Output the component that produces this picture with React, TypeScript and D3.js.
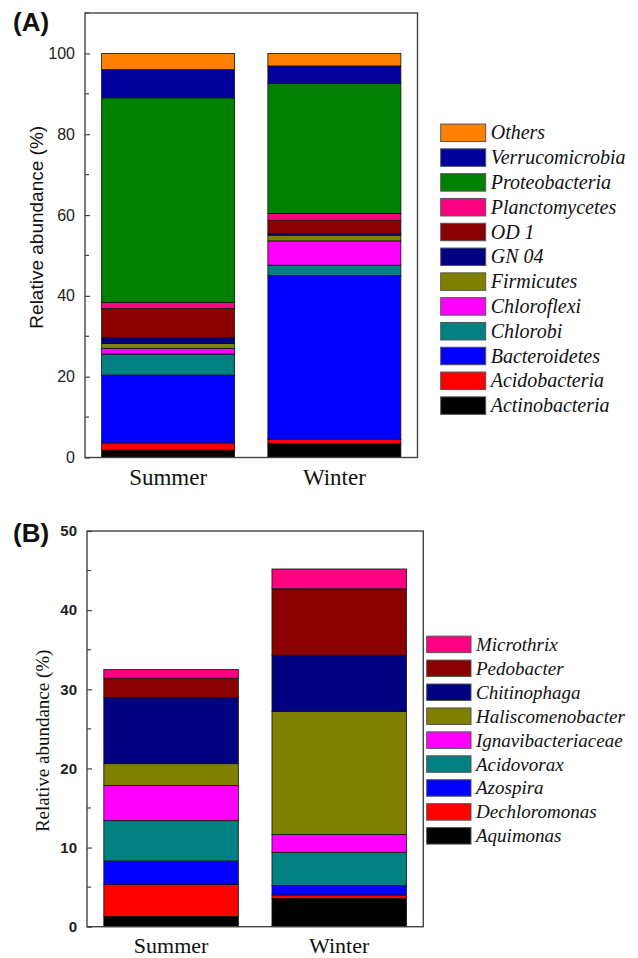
import React, { useEffect, useRef } from 'react';
import * as d3 from 'd3';

const seasons = ["Summer", "Winter"];

// Panel A: phyla, bottom to top
const phylaA = ["Actinobacteria", "Acidobacteria", "Bacteroidetes", "Chlorobi", "Chloroflexi", "Firmicutes", "GN 04", "OD 1", "Planctomycetes", "Proteobacteria", "Verrucomicrobia", "Others"];
const summerA = [1.8, 1.8, 16.8, 5.2, 1.4, 1.2, 1.5, 7.2, 1.5, 50.6, 7.0, 4.0];
const winterA = [3.5, 1.0, 40.5, 2.6, 6.0, 1.4, 0.4, 3.3, 1.7, 32.2, 4.3, 3.1];
const colorsA = ["#000000", "#ff0000", "#0000ff", "#008080", "#ff00ff", "#808000", "#000080", "#8b0000", "#ff0080", "#008000", "#00009c", "#ff8000"];
const ticksA = [0, 20, 40, 60, 80, 100];

// Panel B: genera, bottom to top
const generaB = ["Aquimonas", "Dechloromonas", "Azospira", "Acidovorax", "Ignavibacteriaceae", "Haliscomenobacter", "Chitinophaga", "Pedobacter", "Microthrix"];
const summerB = [1.3, 4.05, 2.95, 5.1, 4.45, 2.75, 8.35, 2.45, 1.1];
const winterB = [3.55, 0.45, 1.2, 4.2, 2.25, 15.55, 7.1, 8.4, 2.5];
const colorsB = ["#000000", "#ff0000", "#0000ff", "#008080", "#ff00ff", "#808000", "#000080", "#8b0000", "#ff0080"];
const ticksB = [0, 10, 20, 30, 40, 50];

type Panel = {
  label: string;
  names: string[];
  values: number[][];
  colors: string[];
  ticks: number[];
  max: number;
  left: number; right: number; top: number; bottom: number;
  tickFont: number; tickWeight: string;
  titleFont: string; titleSize: number; titleX: number;
  catFont: number; catY: number;
  labelY: number;
  legendX: number; legendTop: number; legendStep: number; legendBoxW: number; legendBoxH: number;
  legendFont: number;
};

const SERIF = "'Liberation Serif', 'Times New Roman', serif";
const SANS = "'Liberation Sans', Arial, sans-serif";

const App = () => {
  const svgRef = useRef<SVGSVGElement>(null);

  useEffect(() => {
    if (!svgRef.current) return;
    const svg = d3.select(svgRef.current);
    svg.selectAll("*").remove();

    svg.append("rect").attr("width", 638).attr("height", 958).attr("fill", "white");

    const panels: Panel[] = [
      {
        label: "(A)", names: phylaA, values: [summerA, winterA], colors: colorsA, ticks: ticksA, max: 110,
        left: 85, right: 417.5, top: 13, bottom: 457.5,
        tickFont: 16, tickWeight: "normal",
        titleFont: SANS, titleSize: 19, titleX: 43,
        catFont: 23, catY: 485, labelY: 31,
        legendX: 440.7, legendTop: 132.8, legendStep: 24.8, legendBoxW: 45, legendBoxH: 17.5, legendFont: 20
      },
      {
        label: "(B)", names: generaB, values: [summerB, winterB], colors: colorsB, ticks: ticksB, max: 50,
        left: 87, right: 423.3, top: 531, bottom: 926.7,
        tickFont: 15, tickWeight: "bold",
        titleFont: SERIF, titleSize: 19, titleX: 49,
        catFont: 22, catY: 953, labelY: 542,
        legendX: 426.7, legendTop: 644.4, legendStep: 23.93, legendBoxW: 44.3, legendBoxH: 16.5, legendFont: 19
      }
    ];

    panels.forEach(p => {
      const g = svg.append("g");
      const x = d3.scaleBand<string>().domain(seasons).range([p.left, p.right]).paddingInner(0.2).paddingOuter(0.1);
      const y = d3.scaleLinear().domain([0, p.max]).range([p.bottom, p.top]);

      // stacked bars
      const rows = seasons.map((s, i) => {
        const row: any = { season: s };
        p.names.forEach((n, j) => { row[n] = p.values[i][j]; });
        return row;
      });
      const series = d3.stack<any>().keys(p.names)(rows);
      series.forEach((ser, k) => {
        g.selectAll(null)
          .data(ser)
          .enter()
          .append("rect")
          .attr("x", d => x(d.data.season) as number)
          .attr("width", x.bandwidth())
          .attr("y", d => y(d[1]))
          .attr("height", d => y(d[0]) - y(d[1]))
          .attr("fill", p.colors[k])
          .attr("stroke", "#111")
          .attr("stroke-width", 0.8);
      });

      // frame
      g.append("rect")
        .attr("x", p.left).attr("y", p.top)
        .attr("width", p.right - p.left).attr("height", p.bottom - p.top)
        .attr("fill", "none").attr("stroke", "#444").attr("stroke-width", 1.4);

      // y axis ticks (inward, with minor ticks)
      const axis = d3.axisLeft(y)
        .tickValues(p.ticks)
        .tickSize(-5)
        .tickPadding(10)
        .tickFormat(d3.format("d"));
      const ax = g.append("g").attr("transform", `translate(${p.left},0)`).call(axis);
      ax.select(".domain").remove();
      ax.selectAll(".tick line").attr("stroke", "#444").attr("stroke-width", 1.2);
      ax.selectAll(".tick text")
        .attr("font-family", SANS)
        .attr("font-size", p.tickFont)
        .attr("font-weight", p.tickWeight)
        .attr("fill", "#222");
      const step = p.ticks[1] - p.ticks[0];
      const last = p.ticks[p.ticks.length - 1];
      const minor = p.ticks.slice(0, -1).map(t => t + step / 2).concat(p.max >= last + step / 2 ? [last + step / 2] : []);
      g.selectAll(null)
        .data(minor)
        .enter()
        .append("line")
        .attr("x1", p.left).attr("x2", p.left + 4)
        .attr("y1", d => y(d)).attr("y2", d => y(d))
        .attr("stroke", "#444").attr("stroke-width", 1.2);

      // category labels
      g.selectAll(null)
        .data(seasons)
        .enter()
        .append("text")
        .attr("x", d => (x(d) as number) + x.bandwidth() / 2)
        .attr("y", p.catY)
        .attr("text-anchor", "middle")
        .attr("font-family", SERIF)
        .attr("font-size", p.catFont)
        .attr("fill", "#111")
        .text(d => d);

      // y title
      const cy = (p.top + p.bottom) / 2 + (p.label === "(A)" ? -8 : 12);
      g.append("text")
        .attr("transform", `translate(${p.titleX},${cy}) rotate(-90)`)
        .attr("text-anchor", "middle")
        .attr("font-family", p.titleFont)
        .attr("font-size", p.titleSize)
        .attr("fill", "#111")
        .text("Relative abundance (%)");

      // panel label
      g.append("text")
        .attr("x", 13).attr("y", p.labelY)
        .attr("font-family", SANS)
        .attr("font-size", 26).attr("font-weight", "bold")
        .attr("fill", "#111")
        .text(p.label);

      // legend (top = last series)
      const legendItems = p.names.map((n, i) => ({ name: n, color: p.colors[i] })).reverse();
      const lg = g.selectAll(null)
        .data(legendItems)
        .enter()
        .append("g")
        .attr("transform", (d, i) => `translate(${p.legendX},${p.legendTop + i * p.legendStep})`);
      lg.append("rect")
        .attr("x", 0).attr("y", -p.legendBoxH / 2)
        .attr("width", p.legendBoxW).attr("height", p.legendBoxH)
        .attr("fill", d => d.color)
        .attr("stroke", "#555").attr("stroke-width", 1);
      lg.append("text")
        .attr("x", p.legendBoxW + 5).attr("y", 6.5)
        .attr("font-family", SERIF)
        .attr("font-style", "italic")
        .attr("font-size", p.legendFont)
        .attr("fill", "#111")
        .text(d => d.name);
    });
  }, []);

  return (
    <svg ref={svgRef} width={638} height={958} viewBox="0 0 638 958"
      style={{ position: 'absolute', left: 0, top: 0, display: 'block' }} />
  );
};

export default App;
